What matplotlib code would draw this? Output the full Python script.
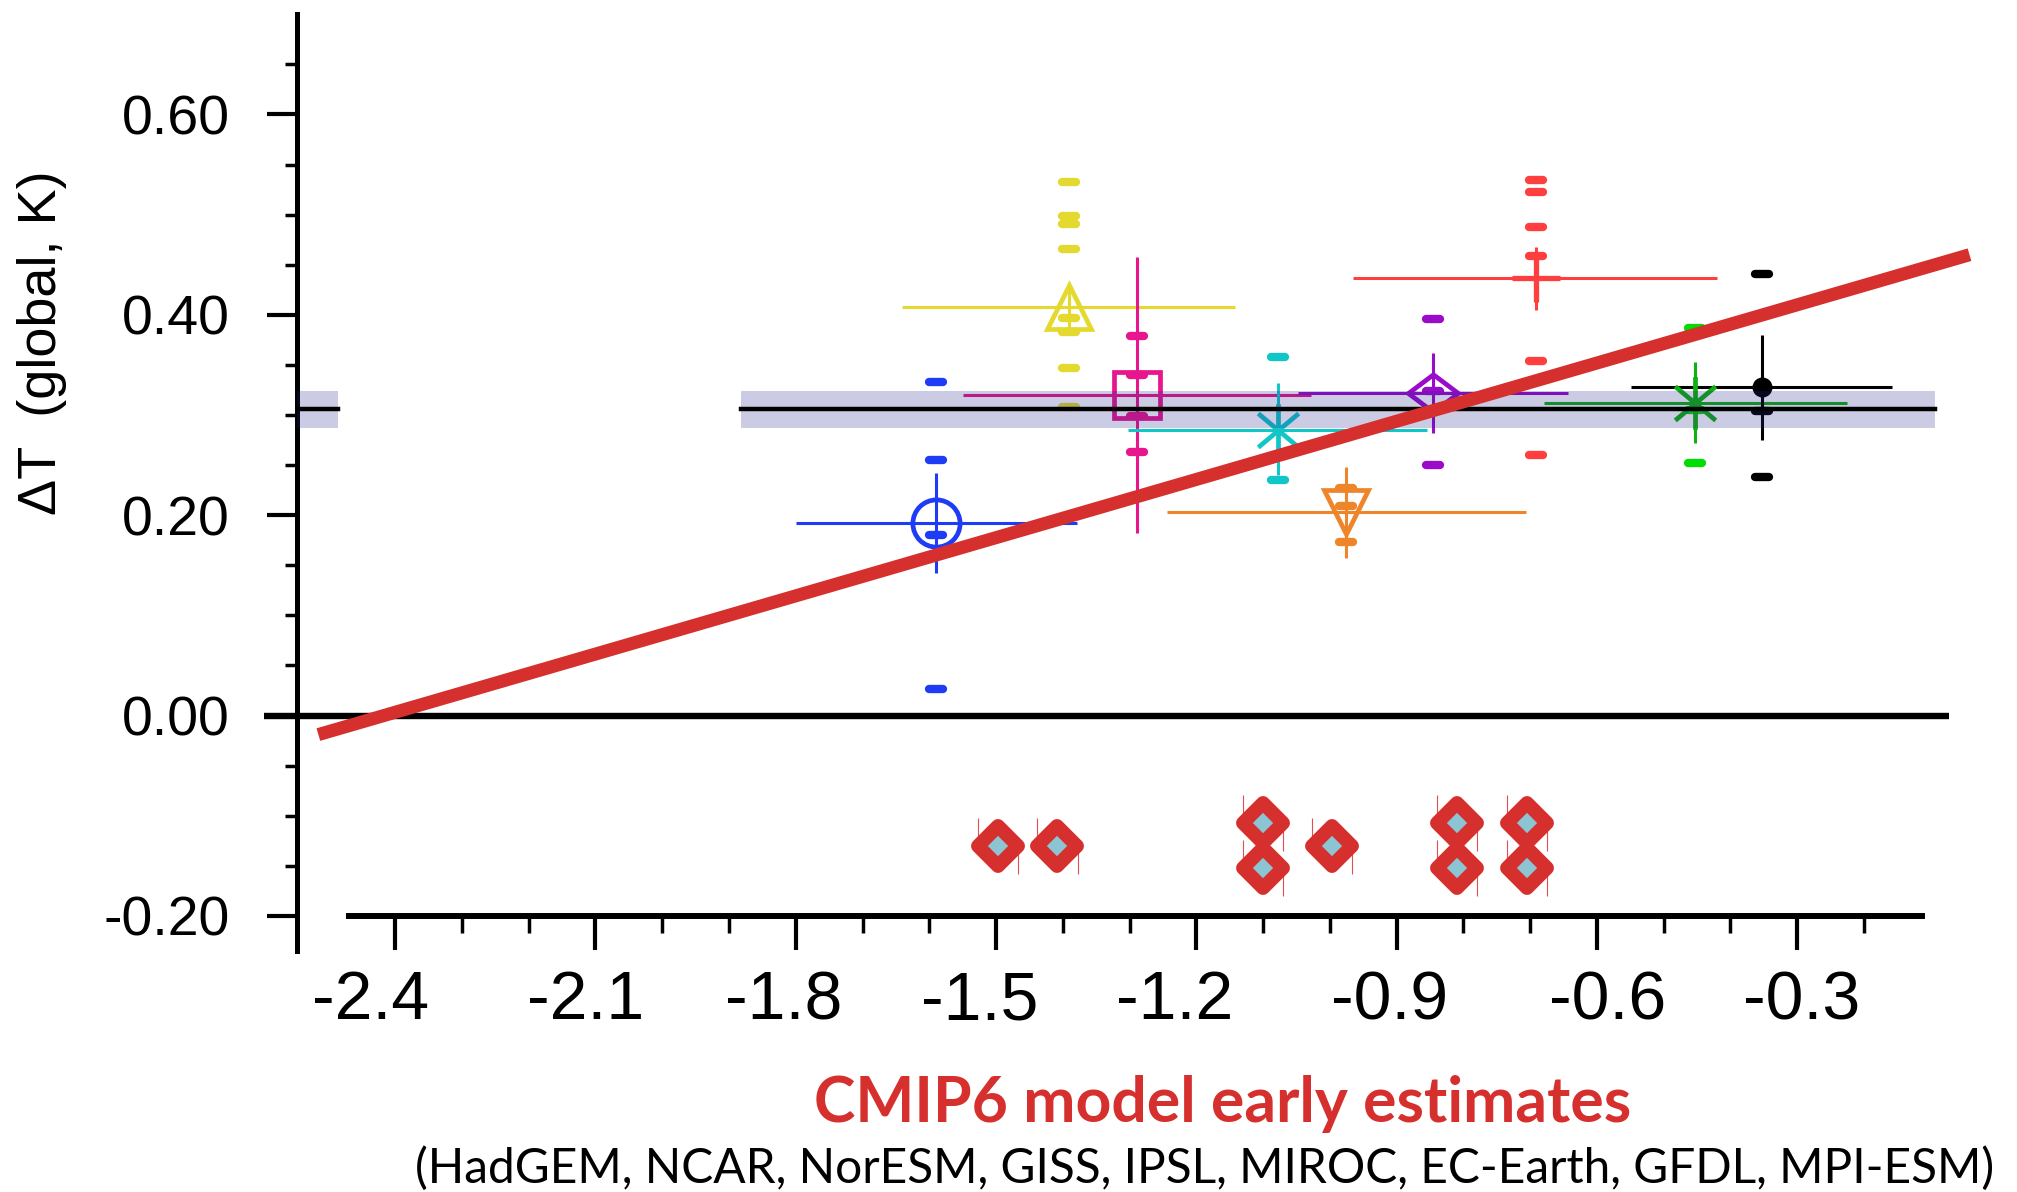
import matplotlib
matplotlib.use('Agg')
import matplotlib.pyplot as plt
from matplotlib.markers import MarkerStyle
from matplotlib.path import Path
from matplotlib.transforms import ScaledTranslation
import numpy as np

plt.rcParams['font.family'] = ['Liberation Sans', 'DejaVu Sans']

# --- data -----------------------------------------------------------------
model_x = [-1.590, -1.390, -1.289, -1.078, -0.976, -0.845, -0.692, -0.453, -0.353]
model_y = [0.192, 0.408, 0.320, 0.285, 0.203, 0.322, 0.437, 0.312, 0.328]
x_low = [-1.800, -1.641, -1.550, -1.303, -1.244, -1.048, -0.966, -0.680, -0.549]
x_high = [-1.379, -1.142, -1.029, -0.855, -0.706, -0.643, -0.420, -0.225, -0.158]
y_low = [0.142, 0.383, 0.182, 0.240, 0.157, 0.282, 0.405, 0.272, 0.275]
y_high = [0.242, 0.432, 0.458, 0.332, 0.248, 0.362, 0.468, 0.353, 0.380]
member_y = [
    [0.333, 0.255, 0.180, 0.027],
    [0.533, 0.499, 0.491, 0.466, 0.397, 0.383, 0.347, 0.308],
    [0.379, 0.340, 0.299, 0.263],
    [0.358, 0.235],
    [0.227, 0.209, 0.173],
    [0.396, 0.324, 0.250],
    [0.535, 0.523, 0.488, 0.459, 0.354, 0.260],
    [0.387, 0.305, 0.252],
    [0.441, 0.304, 0.238],
]
model_colors = ['#1e3cf5', '#e3d92f', '#e8158c', '#12c6c8', '#ef852a',
                '#9a0cc9', '#ff3f3f', '#10b010', '#000000']
member_colors = ['#1e3cf5', '#e3d92f', '#e8158c', '#12c6c8', '#ef852a',
                 '#9a0cc9', '#ff3f3f', '#00dd00', '#000000']

# observed estimate and its uncertainty band (two visible pieces)
obs_value = 0.3058
obs_low, obs_high = 0.287, 0.324
obs_pieces = [(-2.547, -2.485), (-1.882, -0.094)]

# regression line end points
fit_x = [-2.515, -0.042]
fit_y = [-0.019, 0.460]

# CMIP6 early estimates (dot-plot along x)
cmip6_x = [-1.497, -1.408, -1.100, -1.100, -0.997, -0.809, -0.809, -0.705, -0.705]
cmip6_y = [-0.130, -0.130, -0.1075, -0.152, -0.130, -0.1075, -0.152, -0.1075, -0.152]

zero_span = [-2.597, -0.072]

xticks = [-2.4, -2.1, -1.8, -1.5, -1.2, -0.9, -0.6, -0.3]
xtick_labels = ['-2.4', '-2.1', '-1.8', '-1.5', '-1.2', '-0.9', '-0.6', '-0.3']
xtick_label_shift = [-18, -7, -9, -12, -16, -5, 8, 3]  # points, as laid out in the source
xminor = [-2.3, -2.2, -2.0, -1.9, -1.7, -1.6, -1.4, -1.3, -1.1, -1.0,
          -0.8, -0.7, -0.5, -0.4, -0.2]
yticks = [-0.2, 0.0, 0.2, 0.4, 0.6]
ytick_labels = ['-0.20', '0.00', '0.20', '0.40', '0.60']
yminor = [-0.15, -0.10, -0.05, 0.05, 0.10, 0.15, 0.25, 0.30, 0.35,
          0.45, 0.50, 0.55, 0.65]


def asterisk(angle):
    verts, codes = [], []
    for a in [90, 270, angle, 180 - angle, 180 + angle, 360 - angle]:
        t = np.deg2rad(a)
        verts += [(0, 0), (np.cos(t), np.sin(t))]
        codes += [Path.MOVETO, Path.LINETO]
    return Path(verts, codes)


wide_diamond = Path([(-1, 0), (0, 0.75), (1, 0), (0, -0.75), (-1, 0)],
                    [Path.MOVETO, Path.LINETO, Path.LINETO, Path.LINETO,
                     Path.CLOSEPOLY])

model_markers = ['o', '^', 's', asterisk(40), 'v', wide_diamond, '+',
                 asterisk(40), 'o']
marker_sizes = [34, 32, 33, 38, 32, 36, 34, 38, 11]

fig = plt.figure(figsize=(20.17, 11.92), dpi=100)
ax = fig.add_axes([0.14725, 0.1938, 0.8398, 0.7984])
ax.set_xlim(-2.547, -0.01)
ax.set_ylim(-0.245, 0.705)

dash = MarkerStyle('_', capstyle='round')

for i in range(len(model_x)):
    c = model_colors[i]
    xe = [[model_x[i] - x_low[i]], [x_high[i] - model_x[i]]]
    ye = [[model_y[i] - y_low[i]], [y_high[i] - model_y[i]]]
    ax.errorbar([model_x[i]], [model_y[i]], xerr=xe, yerr=ye, fmt='none',
                ecolor=c, elinewidth=2.2, capsize=0, zorder=2)
    ax.plot([model_x[i]] * len(member_y[i]), member_y[i], linestyle='none',
            marker=dash, markersize=9.5, markeredgewidth=6.0,
            color=member_colors[i], zorder=3)
    filled = i == len(model_x) - 1
    ax.plot([model_x[i]], [model_y[i]], linestyle='none',
            marker=model_markers[i], markersize=marker_sizes[i],
            markeredgewidth=3.8 if model_markers[i] == '+' else 3.4,
            markeredgecolor=c, markerfacecolor=c if filled else 'none',
            zorder=3)

# observational band on top (semi transparent)
for x0, x1 in obs_pieces:
    ax.fill_between([x0, x1], obs_low, obs_high, color='#22228a', alpha=0.23,
                    linewidth=0, zorder=4)
    ax.plot([x0, x1], [obs_value, obs_value], color='black', lw=3.2, zorder=5)

ax.plot(zero_span, [0, 0], color='black', lw=4.6, clip_on=False, zorder=5,
        solid_capstyle='butt')

ax.plot(fit_x, fit_y, color='#d6302e', lw=9.4, solid_capstyle='butt', zorder=6)

# CMIP6 early estimates
ax.vlines(np.array(cmip6_x) - 0.030, np.array(cmip6_y), np.array(cmip6_y) + 0.028,
          color='#e05050', lw=0.8, zorder=6)
ax.vlines(np.array(cmip6_x) + 0.030, np.array(cmip6_y) - 0.028, np.array(cmip6_y),
          color='#e05050', lw=0.8, zorder=6)
ax.plot(cmip6_x, cmip6_y, linestyle='none',
        marker=MarkerStyle('D', joinstyle='round'), markersize=20,
        markeredgewidth=10, markeredgecolor='#d6302e',
        markerfacecolor='#8cc4d4', zorder=7)

# axes styling
for s in ['top', 'right']:
    ax.spines[s].set_visible(False)
ax.spines['left'].set_bounds(-0.235, 0.70)
ax.spines['left'].set_linewidth(3.6)
ax.spines['bottom'].set_position(('data', -0.2))
ax.spines['bottom'].set_bounds(-2.469, -0.113)
ax.spines['bottom'].set_linewidth(4.3)

ax.set_xticks(xticks, labels=xtick_labels)
ax.set_xticks(xminor, minor=True)
ax.set_yticks(yticks, labels=ytick_labels)
ax.set_yticks(yminor, minor=True)
ax.tick_params(axis='x', which='major', direction='out', length=24.5, width=3,
               pad=14, labelsize=49)
ax.tick_params(axis='x', which='minor', direction='out', length=12.2, width=2.5)
ax.tick_params(axis='y', which='major', direction='out', length=21.6, width=3,
               pad=27, labelsize=40)
ax.tick_params(axis='y', which='minor', direction='out', length=8.9, width=2.5)

for lab, dx in zip(ax.get_xticklabels(), xtick_label_shift):
    lab.set_transform(lab.get_transform()
                      + ScaledTranslation(dx / 72, 0, fig.dpi_scale_trans))

ax.set_ylabel('\u0394T  (global, K)', fontsize=39, ha='center', va='center')
ax.yaxis.set_label_coords(-0.1505, 0.650)

fig.text(0.6061, 0.059, 'CMIP6 model early estimates', color='#d6302e',
         fontsize=45, fontweight='bold', family=['Lato', 'DejaVu Sans'],
         ha='center', va='baseline')
fig.text(0.9886, 0.0073,
         '(HadGEM, NCAR, NorESM, GISS, IPSL, MIROC, EC-Earth, GFDL, MPI-ESM)',
         fontsize=34.5, family=['Lato', 'DejaVu Sans'], ha='right', va='baseline')

fig.savefig('out.png', dpi=100)
